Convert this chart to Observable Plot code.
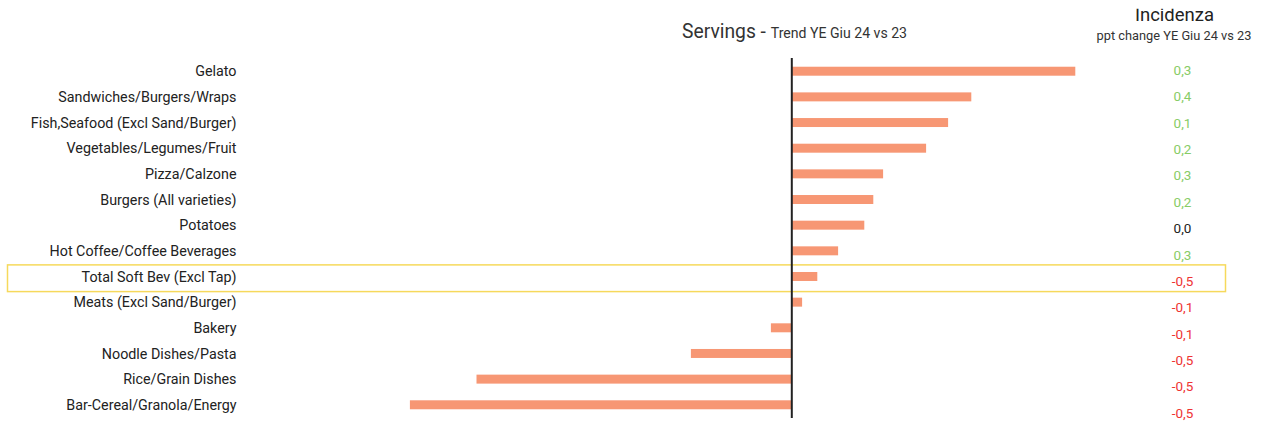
<!DOCTYPE html>
<html>
<head>
<meta charset="utf-8">
<script src="https://cdn.jsdelivr.net/npm/d3@7"></script>
<script src="https://cdn.jsdelivr.net/npm/@observablehq/plot@0.6"></script>
<style>
  html, body { margin: 0; padding: 0; background: #fff; }
  #wrap { position: relative; width: 1262px; height: 422px; overflow: hidden;
    font-family: "Roboto", sans-serif; }
  #wrap svg { position: absolute; top: 0; }
  #titles { left: 0; pointer-events: none; }
</style>
</head>
<body>
<div id="wrap"></div>
<script>
const categories = [
  "Gelato",
  "Sandwiches/Burgers/Wraps",
  "Fish,Seafood (Excl Sand/Burger)",
  "Vegetables/Legumes/Fruit",
  "Pizza/Calzone",
  "Burgers (All varieties)",
  "Potatoes",
  "Hot Coffee/Coffee Beverages",
  "Total Soft Bev (Excl Tap)",
  "Meats (Excl Sand/Burger)",
  "Bakery",
  "Noodle Dishes/Pasta",
  "Rice/Grain Dishes",
  "Bar-Cereal/Granola/Energy"
];
const servingsTrend = [14.2, 9.0, 7.84, 6.74, 4.59, 4.1, 3.65, 2.34, 1.3, 0.54, -1.02, -5.02, -15.74, -19.07];
const incidenzaPpt = [0.3, 0.4, 0.1, 0.2, 0.3, 0.2, 0.0, 0.3, -0.5, -0.1, -0.1, -0.5, -0.5, -0.5];
const highlighted = "Total Soft Bev (Excl Tap)";

const rows = categories.map((c, i) => ({cat: c, value: servingsTrend[i], ppt: incidenzaPpt[i]}));
const fontFamily = '"Roboto", sans-serif';

const bars = Plot.plot({
  width: 1262, height: 422,
  marginTop: 58, marginBottom: 4, marginLeft: 250, marginRight: 70.7,
  style: {fontFamily, fontSize: "14.3px", color: "#222", background: "transparent"},
  x: {domain: [-27.065, 20], axis: null},
  y: {domain: categories, paddingInner: 0.65, paddingOuter: 0.34, round: false, axis: null},
  marks: [
    Plot.barX(rows, {y: "cat", x: "value", fill: "#f79774"}),
    Plot.ruleX([0], {stroke: "#222", strokeWidth: 2}),
    Plot.axisY({tickSize: 0, tickPadding: 14, label: null, fontSize: 14.3, fill: "#222"})
  ]
});

// highlight box around the highlighted row
const ys = bars.scale("y");
const yc = ys.apply(highlighted) + ys.bandwidth / 2;
const ns = "http://www.w3.org/2000/svg";
const box = document.createElementNS(ns, "rect");
box.setAttribute("x", 7.5);
box.setAttribute("width", 1218);
box.setAttribute("y", yc - 11.6);
box.setAttribute("height", 26.7);
box.setAttribute("fill", "none");
box.setAttribute("stroke", "#f6d95c");
box.setAttribute("stroke-width", 1.5);
const firstG = bars.querySelector("g");
bars.insertBefore(box, firstG);

const fmt = v => (v < 0 ? "-" : "") + Math.abs(v).toFixed(1).replace(".", ",");
const values = Plot.plot({
  width: 100, height: 422,
  marginTop: 70, marginBottom: 9, marginLeft: 0, marginRight: 0,
  style: {fontFamily, fontSize: "13.5px", background: "transparent"},
  y: {type: "point", domain: categories, padding: 0, round: false, axis: null},
  marks: [
    Plot.text(rows, {
      y: "cat", text: d => fmt(d.ppt), fontSize: 13.5,
      fill: d => d.ppt > 0 ? "#88cc66" : d.ppt < 0 ? "#ee3333" : "#222"
    })
  ]
});
values.style.left = "1132px";

const wrap = document.getElementById("wrap");
wrap.appendChild(bars);
bars.style.left = "0px";
wrap.appendChild(values);

// titles
const t = d3.select(wrap).append("svg").attr("id", "titles")
  .attr("width", 1262).attr("height", 422)
  .style("font-family", fontFamily);
t.append("clipPath").attr("id", "clipTop").append("rect")
  .attr("x", 0).attr("y", 8.7).attr("width", 1262).attr("height", 414);
const main = t.append("text").attr("x", 682).attr("y", 38.3).attr("fill", "#333");
main.append("tspan").attr("font-size", 19.3).text("Servings - ");
main.append("tspan").attr("font-size", 14.1).text("Trend YE Giu 24 vs 23");
t.append("text").attr("x", 1174.5).attr("y", 21).attr("text-anchor", "middle")
  .attr("font-size", 18.5).attr("fill", "#222").attr("clip-path", "url(#clipTop)").text("Incidenza");
t.append("text").attr("x", 1174).attr("y", 39.5).attr("text-anchor", "middle")
  .attr("font-size", 12.8).attr("fill", "#333").text("ppt change YE Giu 24 vs 23");
</script>
</body>
</html>
